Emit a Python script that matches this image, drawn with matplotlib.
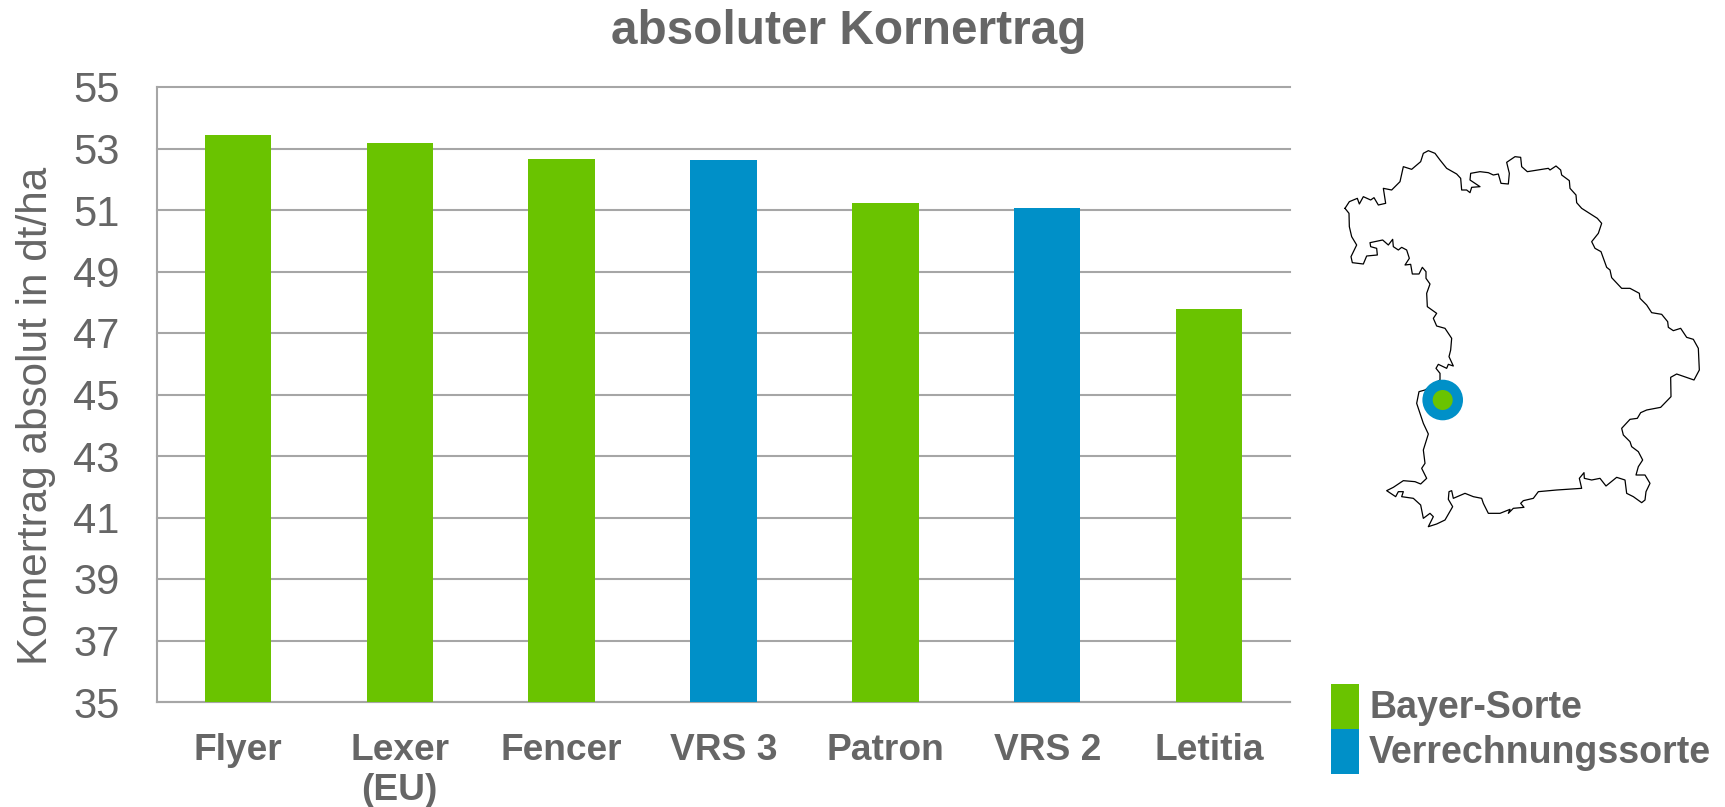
import matplotlib
matplotlib.use('Agg')
import matplotlib.pyplot as plt
from matplotlib.patches import Circle, Rectangle

# dataset
sorten = ['Flyer', 'Lexer\n(EU)', 'Fencer', 'VRS 3', 'Patron', 'VRS 2', 'Letitia']
ertrag = [53.43, 53.18, 52.65, 52.63, 51.22, 51.06, 47.77]
sorte_typ = ['bayer', 'bayer', 'bayer', 'vrs', 'bayer', 'vrs', 'bayer']
y_ticks = [35, 37, 39, 41, 43, 45, 47, 49, 51, 53, 55]
legend_labels = ['Bayer-Sorte', 'Verrechnungssorte']

# map outline, traced in pixels of the crop (x, y)
bayern_x = [135, 148, 165, 172, 178, 190, 212, 222, 235, 257, 250, 275, 300, 310, 335, 362, 370, 385, 405, 420,
            440, 470, 482, 485, 500, 510, 515, 540, 510, 512, 540, 565, 580, 595, 603, 625, 628, 620, 645, 662,
            665, 682, 745, 750, 768, 782, 785, 808, 810, 828, 830, 845, 892, 905, 895, 875, 885, 903, 920, 930,
            935, 965, 990, 1018, 1020, 1040, 1055, 1085, 1103, 1105, 1120, 1142, 1160, 1180, 1195, 1198, 1182,
            1130, 1112, 1113, 1082, 1040, 1022, 1012, 990, 965, 970, 990, 995, 1015, 1028, 1015, 1008, 1035,
            1050, 1038, 1035, 1025, 1000, 980, 975, 950, 918, 900, 875, 853, 852, 838, 845, 770, 715, 700, 670,
            662, 672, 640, 625, 630, 600, 565, 550, 545, 520, 495, 460, 455, 447, 445, 458, 435, 410, 385, 400,
            390, 370, 362, 340, 305, 310, 295, 287, 260, 280, 310, 345, 362, 380, 365, 375, 370, 385, 370, 350,
            357, 375, 420, 420, 408, 415, 440, 445, 460, 447, 452, 455, 435, 410, 400, 410, 382, 380, 390, 378,
            378, 367, 357, 337, 332, 315, 328, 320, 305, 295, 280, 278, 265, 248, 210, 212, 230, 232, 200, 190,
            157, 153, 170, 155, 148, 147, 135]
bayern_y = [235, 215, 208, 205, 222, 200, 210, 203, 225, 220, 175, 180, 155, 110, 118, 95, 70, 62, 70, 90,
            115, 132, 145, 180, 180, 188, 172, 170, 150, 130, 125, 128, 135, 132, 160, 162, 130, 97, 80, 82,
            110, 125, 115, 120, 108, 120, 135, 152, 175, 195, 218, 235, 265, 280, 310, 335, 355, 365, 412, 420,
            443, 475, 475, 490, 505, 525, 548, 553, 575, 592, 602, 595, 622, 628, 655, 720, 750,
            732, 742, 800, 832, 840, 848, 865, 868, 895, 915, 935, 950, 965, 990, 1010, 1035, 1035,
            1060, 1085, 1110, 1118, 1100, 1090, 1050, 1042, 1068, 1045, 1050, 1045, 1028, 1045, 1075, 1080, 1085, 1105, 1112,
            1120, 1132, 1135, 1150, 1138, 1150, 1150, 1120, 1105, 1100, 1090, 1105, 1082, 1085, 1108, 1130, 1170, 1182, 1190, 1160,
            1150, 1165, 1125, 1105, 1100, 1085, 1085, 1100, 1082, 1072, 1052, 1055, 1062, 1045, 1015, 1000, 960, 912, 880, 820,
            785, 780, 750, 730, 715, 703, 715, 703, 708, 680, 660, 625, 595, 588, 565, 550, 530, 490, 462, 445,
            425, 412, 432, 432, 403, 405, 385, 360, 352, 360, 350, 328, 345, 330, 338, 350, 355, 375, 378, 402,
            398, 380, 345, 320, 290, 250, 235]

GREEN = '#6AC300'
BLUE = '#0090C8'
GREY = '#666666'
LINE = '#A6A6A6'
W, H = 1725, 807

plt.rcParams['font.family'] = ['Liberation Sans', 'DejaVu Sans']
fig = plt.figure(figsize=(W / 100, H / 100), dpi=100)

# main chart
ax = fig.add_axes([157 / W, 1 - 702 / H, (1290 - 157) / W, (702 - 87) / H])
colors = [GREEN if t == 'bayer' else BLUE for t in sorte_typ]
ax.bar(range(len(sorten)), ertrag, width=0.41, color=colors, zorder=3)
ax.set_xlim(-0.5, len(sorten) - 0.5)
ax.set_ylim(35, 55)
ax.set_yticks(y_ticks)
ax.set_xticks(range(len(sorten)))
ax.set_xticklabels(sorten, fontsize=26.7, fontweight='bold', color=GREY, linespacing=1.2)
ax.tick_params(axis='y', length=0, labelsize=30, labelcolor=GREY, pad=27)
ax.tick_params(axis='x', length=0, pad=22)
ax.grid(axis='y', color=LINE, linewidth=1.5, zorder=0)
# top gridline sits on the axes edge, do not clip it
for gl in ax.get_ygridlines():
    gl.set_clip_on(False)
for side in ['top', 'right']:
    ax.spines[side].set_visible(False)
for side in ['left', 'bottom']:
    ax.spines[side].set_color(LINE)
    ax.spines[side].set_linewidth(1.5)

fig.text(849 / W, 1 - 32 / H, 'absoluter Kornertrag', fontsize=34.4, fontweight='bold',
         color=GREY, ha='center', va='center')
fig.text(36 / W, 1 - 416 / H, 'Kornertrag absolut in dt/ha', fontsize=30.4, color=GREY,
         rotation=90, ha='center', va='center')

# overlay in pixel coordinates for the map and the legend
ov = fig.add_axes([0, 0, 1, 1])
ov.set_xlim(0, W)
ov.set_ylim(H, 0)
ov.axis('off')
ov.patch.set_alpha(0)

map_x = [1300 + x / 3 for x in bayern_x]
map_y = [130 + y / 3 for y in bayern_y]
ov.plot(map_x, map_y, color='black', linewidth=0.9)
ov.add_patch(Circle((1442.7, 400), 20.3, color=BLUE, ec='none', zorder=4))
ov.add_patch(Circle((1442.7, 400), 10, color=GREEN, ec='none', zorder=5))

ov.add_patch(Rectangle((1331, 684), 27.5, 45, color=GREEN, ec='none'))
ov.add_patch(Rectangle((1331, 729), 27.5, 45, color=BLUE, ec='none'))
ov.text(1369, 708, legend_labels[0], fontsize=27, fontweight='bold', color=GREY, va='center')
ov.text(1369, 753, legend_labels[1], fontsize=27, fontweight='bold', color=GREY, va='center')

plt.savefig('out.png', dpi=100)
